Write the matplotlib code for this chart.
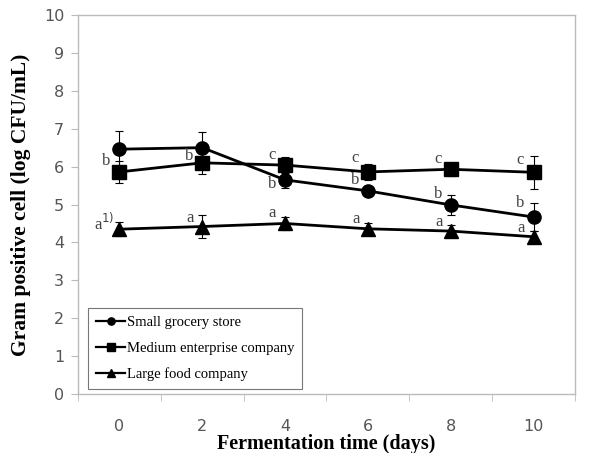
import matplotlib
matplotlib.use("Agg")
import matplotlib.pyplot as plt
from matplotlib.lines import Line2D

days = [0, 2, 4, 6, 8, 10]
series_names = ["Small grocery store", "Medium enterprise company", "Large food company"]
small = [6.46, 6.50, 5.65, 5.36, 4.99, 4.67]
small_err = [0.48, 0.40, 0.22, 0.12, 0.27, 0.38]
medium = [5.86, 6.10, 6.04, 5.86, 5.93, 5.85]
medium_err = [0.30, 0.30, 0.22, 0.22, 0.17, 0.43]
large = [4.35, 4.42, 4.50, 4.36, 4.30, 4.15]
large_err = [0.18, 0.30, 0.18, 0.15, 0.15, 0.15]

small_letters = ["", "", "b", "b", "b", "b"]
medium_letters = ["b", "b", "c", "c", "c", "c"]
large_letters = ["a$^{1)}$", "a", "a", "a", "a", "a"]

yticks = list(range(0, 11))

plt.rcParams['font.family'] = ['Liberation Serif', 'DejaVu Serif']

fig = plt.figure(figsize=(6.11, 4.53), dpi=100)
ax = fig.add_axes([0.1277, 0.130, 0.8133, 0.837])

markers = ["o", "s", "^"]
msizes = [9.5, 9.5, 10]
handles = []
for vals, errs, m, ms, name in zip([small, medium, large],
                                   [small_err, medium_err, large_err],
                                   markers, msizes, series_names):
    ax.errorbar(days, vals, yerr=errs, color="black", marker=m, markersize=ms,
                linewidth=2.0, elinewidth=0.8, capsize=3, capthick=0.8)
    handles.append(Line2D([], [], color="black", marker=m, markersize=ms * 0.55,
                          linewidth=1.6, label=name))

# letters
px = 0.72
small_off = [(0, 0), (0, 0), (-13, -4), (-13, 11), (-13, 11), (-13, 14)]
medium_off = [(-13, 11), (-13, 7), (-13, 10), (-13, 14), (-13, 10), (-13, 12)]
large_off = [(-15, 6), (-12, 9), (-13, 10), (-12, 10), (-12, 9), (-12, 9)]
for vals, letters, offs in [(small, small_letters, small_off),
                            (medium, medium_letters, medium_off),
                            (large, large_letters, large_off)]:
    for d, v, l, (dx, dy) in zip(days, vals, letters, offs):
        if l:
            ax.annotate(l, (d, v), xytext=(dx * px, dy * px), textcoords="offset points",
                        ha="center", va="center", fontsize=12, color="#444444")

ax.set_xlim(-1, 11)
ax.set_ylim(0, 10)
ax.set_yticks(yticks)
ax.set_xticks(days)
ax.set_xticks([-1, 1, 3, 5, 7, 9, 11], minor=True)
ax.tick_params(axis="x", which="major", length=0, pad=18)
ax.tick_params(axis="x", which="minor", length=5, color="#bbbbbb", direction="out")
ax.tick_params(axis="y", length=5, color="#bbbbbb", direction="out", pad=5)
for lab in ax.get_xticklabels() + ax.get_yticklabels():
    lab.set_fontfamily("DejaVu Sans")
    lab.set_fontsize(11.5)
    lab.set_color("#555555")
for sp in ax.spines.values():
    sp.set_color("#bbbbbb")
    sp.set_linewidth(1.0)

ax.set_ylabel("Gram positive cell (log CFU/mL)", fontsize=15.5, fontweight="bold", labelpad=9)
ax.set_xlabel("Fermentation time (days)", fontsize=14.5, fontweight="bold", labelpad=0)

leg = ax.legend(handles=handles, loc="lower left", bbox_to_anchor=(0.02, 0.013),
                borderaxespad=0, fontsize=10.5,
                frameon=True, fancybox=False, edgecolor="#555555",
                handlelength=2.0, borderpad=0.55, labelspacing=0.85,
                handletextpad=0.1)
leg.get_frame().set_linewidth(0.8)

fig.savefig("out.png", dpi=100)
